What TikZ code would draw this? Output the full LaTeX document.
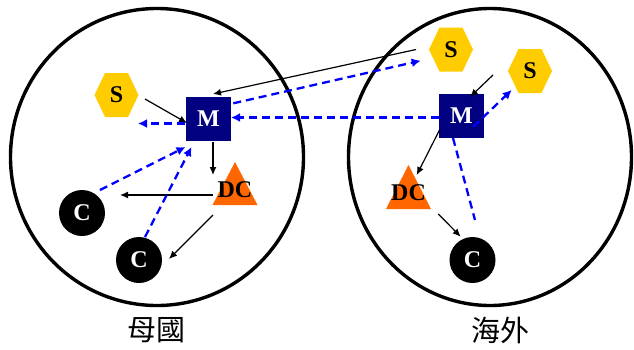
\documentclass[tikz,border=0pt]{standalone}
\usepackage{fontspec}
\setmainfont{Liberation Serif}
\newfontfamily\cjk{Noto Sans CJK TC}
\usetikzlibrary{calc,arrows.meta,shapes.geometric}
\definecolor{sgold}{RGB}{255,204,0}
\definecolor{mnavy}{RGB}{0,0,128}
\definecolor{dcorange}{RGB}{255,102,0}
\definecolor{dblue}{RGB}{0,0,255}
\tikzset{
  region/.style={ellipse,draw=black,line width=3.4pt,inner sep=0pt},
  lbl/.style={font=\fontsize{24}{24}\selectfont\bfseries,inner sep=0pt},
  mbox/.style={lbl,rectangle,fill=mnavy,text=white,minimum width=45pt,minimum height=44pt},
  cnode/.style={lbl,circle,fill=black,text=white,minimum size=46pt},
  blk/.style={black,line width=1.2pt,-{Latex[length=8pt,width=7pt]}},
  bl/.style={dblue,line width=2.3pt,dash pattern=on 8pt off 5pt,-{Latex[length=9pt,width=9pt]}},
  blplain/.style={dblue,line width=2.3pt,dash pattern=on 8pt off 5pt},
  cjklbl/.style={font=\cjk\fontsize{29}{29}\selectfont,inner sep=0pt}
}
\begin{document}
\begin{tikzpicture}[x=1pt,y=-1pt]
\useasboundingbox (0,0) rectangle (634,349);
% regions
\node[region,minimum width=293pt,minimum height=297pt] (home) at (157,157) {};
\node[region,minimum width=283pt,minimum height=297pt] (abroad) at (490,157) {};
\node[cjklbl] (homelbl) at (156,330) {母國};
\node[cjklbl] (abroadlbl) at (500,330) {海外};
% hexagons
\fill[sgold,shift={(116.5,95)}] (-22,0) -- (-11.5,-22) -- (11.5,-22) -- (22,0) -- (11.5,22) -- (-11.5,22) -- cycle;
\fill[sgold,shift={(451,49.5)}] (-22,0) -- (-11.5,-22) -- (11.5,-22) -- (22,0) -- (11.5,22) -- (-11.5,22) -- cycle;
\fill[sgold,shift={(530,71)}] (-22,0) -- (-11.5,-22) -- (11.5,-22) -- (22,0) -- (11.5,22) -- (-11.5,22) -- cycle;
\node[lbl] (SL) at (116.5,95) {S};
\node[lbl] (ST) at (451,49.5) {S};
\node[lbl] (SR) at (530,71) {S};
% triangles
\fill[dcorange] (235,162) -- (257.5,205) -- (212.5,205) -- cycle;
\fill[dcorange] (408.5,165) -- (431,209) -- (386,209) -- cycle;
\node[lbl] (DCL) at (235,190) {DC};
\node[lbl] (DCR) at (408.5,193) {DC};
% M boxes
\node[mbox] (ML) at (208.5,119) {M};
\node[mbox] (MR) at (461.5,116) {M};
% C circles
\node[cnode] (C1) at (82,213) {C};
\node[cnode] (C2) at (139,260) {C};
\node[cnode] (CR) at (472.5,260) {C};
% black connectors
\draw[blk] ($(SL)+(28.5,4)$) -- ($(ML)+(-21.5,4)$);
\draw[blk] ($(ST)+(-35,0)$) -- ($(ML)+(4.5,-25)$);
\draw[blk] ($(ML)+(4.5,23)$) -- ($(DCL)+(-22,-15)$);
\draw[blk] ($(DCL)+(-22,5)$) -- ($(C1)+(38,-18)$);
\draw[blk] ($(DCL)+(-22,25)$) -- ($(C2)+(30,-1)$);
\draw[blk] ($(SR)+(-37,4)$) -- ($(MR)+(8.5,-19)$);
\draw[blk] ($(MR)+(-22,14)$) -- ($(DCR)+(8.2,-18)$);
\draw[blk] ($(DCR)+(29.8,21)$) -- ($(CR)+(-11.8,-23.3)$);
% blue dashed connectors
\coordinate (freeL) at (138,123.5);
\draw[bl] ($(ML)+(-23.5,4.5)$) -- (freeL);
\draw[bl] ($(MR)+(-22.5,1.5)$) -- ($(ML)+(22.5,-1.5)$);
\draw[bl] ($(ML)+(24.8,-15.7)$) -- ($(ST)+(-30.3,11.2)$);
\draw[bl] ($(C1)+(18,-23)$) -- ($(ML)+(-23,28)$);
\draw[bl] ($(C2)+(6,-23)$) -- ($(ML)+(-17,28)$);
\draw[bl] ($(MR)+(11.8,10.7)$) -- ($(SR)+(-18.3,19)$);
\draw[blplain] ($(MR)+(-8.5,22)$) -- ($(CR)+(2.5,-40)$);
\end{tikzpicture}
\end{document}
